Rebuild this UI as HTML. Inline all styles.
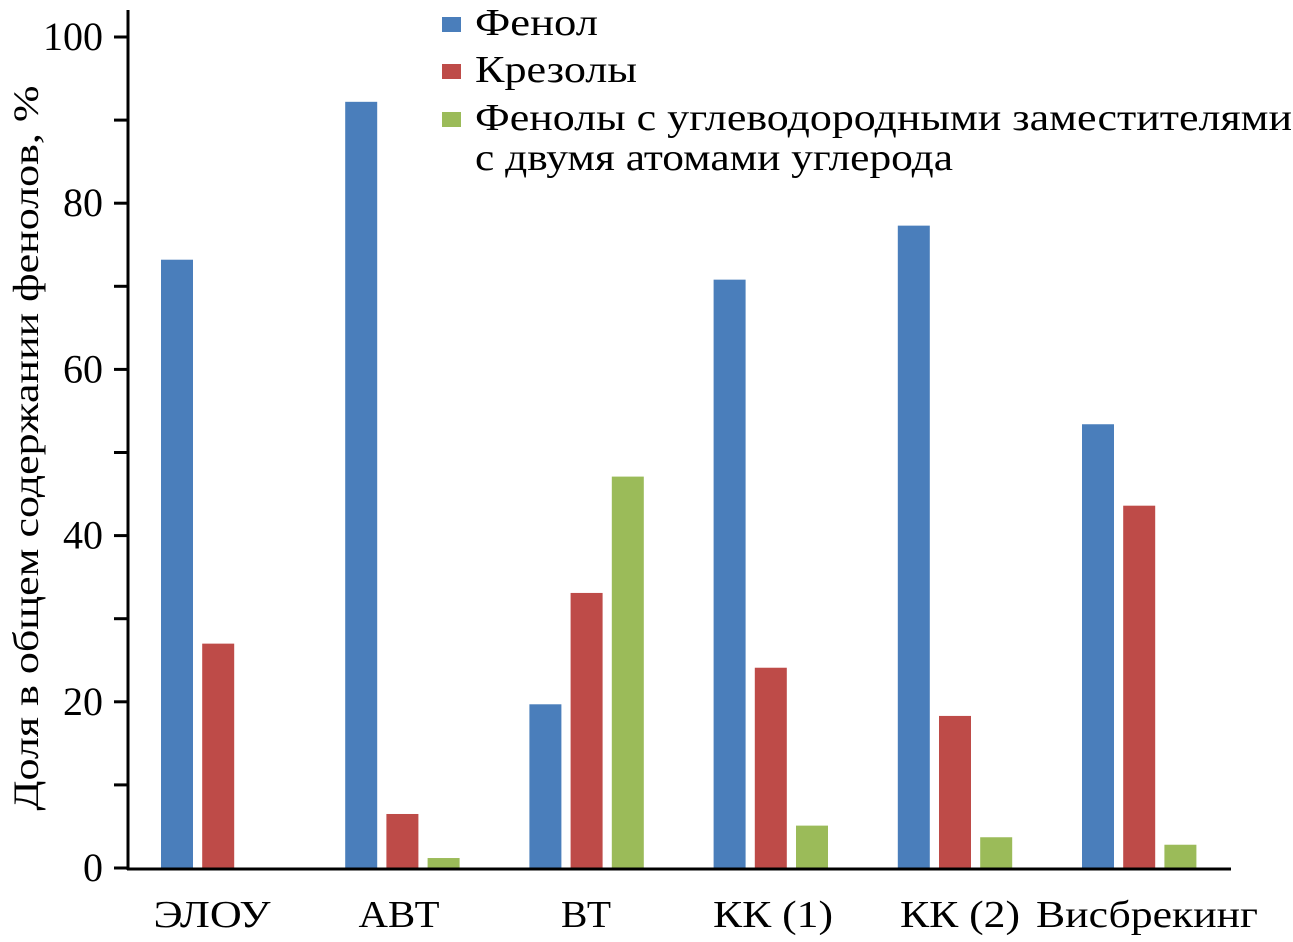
<!DOCTYPE html>
<html><head><meta charset="utf-8"><style>
html,body{margin:0;padding:0;background:#fff;}
svg{display:block;}
text{font-family:"Liberation Serif","Noto Serif CJK SC",serif;fill:#000;}
</style></head><body>
<svg id="chart" width="1293" height="942" viewBox="0 0 1293 942" xmlns="http://www.w3.org/2000/svg">
<g id="bars"></g>
<g id="axes"></g>
<text transform="translate(38,448) rotate(-90)" text-anchor="middle" font-size="36" textLength="725" lengthAdjust="spacingAndGlyphs">Доля в общем содержании фенолов, %</text>
<g>
<rect x="442" y="17" width="19" height="15" fill="#4A7EBB"/>
<text x="475" y="35" font-size="38" textLength="123" lengthAdjust="spacingAndGlyphs">Фенол</text>
<rect x="442" y="64" width="19" height="15" fill="#BE4B48"/>
<text x="475" y="82" font-size="38" textLength="162" lengthAdjust="spacingAndGlyphs">Крезолы</text>
<rect x="442" y="112" width="19" height="15" fill="#9BBB59"/>
<text x="475" y="130" font-size="38" textLength="817" lengthAdjust="spacingAndGlyphs">Фенолы с углеводородными заместителями</text>
<text x="475" y="170" font-size="38" textLength="478" lengthAdjust="spacingAndGlyphs">с двумя атомами углерода</text>
</g>
</svg>
<script>
const categories = ["ЭЛОУ","АВТ","ВТ","КК (1)","КК (2)","Висбрекинг"];
const phenol = [73.2, 92.2, 19.7, 70.8, 77.3, 53.4];
const cresols = [27.0, 6.5, 33.1, 24.1, 18.3, 43.6];
const c2phenols = [0, 1.2, 47.1, 5.1, 3.7, 2.8];
const majorTicks = [0, 20, 40, 60, 80, 100];
const minorTicks = [10, 30, 50, 70, 90];
const labelWidths = [117, 81, 50, 120, 120, 222];

const NS = "http://www.w3.org/2000/svg";
const y0 = 868, pxPerUnit = 8.31;
const yScale = v => y0 - v * pxPerUnit;
const groupStart = i => 161 + i * 184.2;
const labelCenter = i => 212 + i * 187;
const barW = 32, barStep = 41.2;
const series = [phenol, cresols, c2phenols];
const colors = ["#4A7EBB", "#BE4B48", "#9BBB59"];
const names = ["phenol", "cresols", "c2-phenols"];
const bars = document.getElementById("bars");
categories.forEach((c, i) => {
  series.forEach((s, k) => {
    const v = s[i];
    if (v <= 0) return;
    const r = document.createElementNS(NS, "rect");
    r.setAttribute("x", groupStart(i) + k * barStep);
    r.setAttribute("y", yScale(v));
    r.setAttribute("width", barW);
    r.setAttribute("height", y0 - yScale(v));
    r.setAttribute("fill", colors[k]);
    
    
    bars.appendChild(r);
  });
});
const axes = document.getElementById("axes");
function line(x1, y1, x2, y2, name) {
  const l = document.createElementNS(NS, "line");
  l.setAttribute("x1", x1); l.setAttribute("y1", y1);
  l.setAttribute("x2", x2); l.setAttribute("y2", y2);
  l.setAttribute("stroke", "#000"); l.setAttribute("stroke-width", "3");
  
  
  axes.appendChild(l);
}
line(128, 10, 128, 870, "y-axis-line");
line(127, 869, 1231, 869, "x-axis-line");
majorTicks.forEach(v => {
  line(114, yScale(v), 128, yScale(v), "y-tick-" + v);
  const t = document.createElementNS(NS, "text");
  t.setAttribute("x", 103);
  t.setAttribute("y", yScale(v) + 13);
  t.setAttribute("text-anchor", "end");
  t.setAttribute("font-size", "40");
  t.textContent = v;
  
  
  axes.appendChild(t);
});
minorTicks.forEach(v => {
  line(114, yScale(v), 128, yScale(v), "y-minor-tick-" + v);
});
categories.forEach((c, i) => {
  const t = document.createElementNS(NS, "text");
  t.setAttribute("x", labelCenter(i));
  t.setAttribute("y", 927);
  t.setAttribute("text-anchor", "middle");
  t.setAttribute("font-size", "38");
  t.setAttribute("textLength", labelWidths[i]);
  t.setAttribute("lengthAdjust", "spacingAndGlyphs");
  t.textContent = c;
  
  
  axes.appendChild(t);
});
</script>
</body></html>
